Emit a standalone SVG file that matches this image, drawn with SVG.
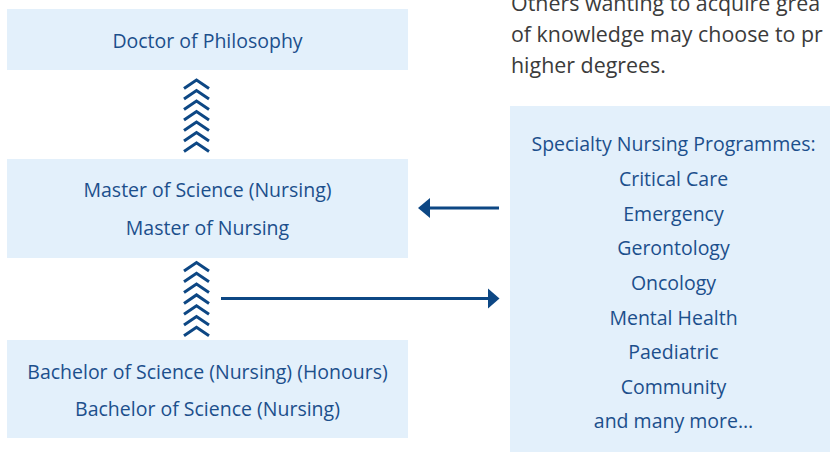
<svg xmlns="http://www.w3.org/2000/svg" width="830" height="452" viewBox="0 0 830 452">
<defs>
<style>
.box{fill:#e3f0fb;}
.t{font-family:"Open Sans","Liberation Sans",sans-serif;font-size:19.5px;fill:#1c4f8c;text-anchor:middle;}
.p{font-family:"Open Sans","Liberation Sans",sans-serif;font-size:21.4px;fill:#3b3b3b;}
.chev{fill:none;stroke:#0d4784;stroke-width:3;}
.arr{stroke:#0d4784;stroke-width:3;fill:none;}
.head{fill:#0d4784;}
</style>
<path id="c" class="chev" d="M184,88.5 L196.5,80 L209,88.5"/>
</defs>
<rect width="830" height="452" fill="#ffffff"/>
<g id="intro">
<text class="p" x="511" y="11">Others wanting to acquire grea</text>
<text class="p" x="511" y="42">of knowledge may choose to pr</text>
<text class="p" x="511" y="73">higher degrees.</text>
</g>
<g id="phd">
<rect class="box" x="7" y="9" width="401" height="61"/>
<text class="t" x="207.5" y="48">Doctor of Philosophy</text>
</g>
<g id="master">
<rect class="box" x="7" y="159" width="401" height="99"/>
<text class="t" x="207.5" y="197">Master of Science (Nursing)</text>
<text class="t" x="207.5" y="235">Master of Nursing</text>
</g>
<g id="bachelor">
<rect class="box" x="7" y="340" width="401" height="98"/>
<text class="t" x="207.5" y="379">Bachelor of Science (Nursing) (Honours)</text>
<text class="t" x="207.5" y="416">Bachelor of Science (Nursing)</text>
</g>
<g id="specialty">
<rect class="box" x="510" y="106" width="320" height="346"/>
<text class="t" x="673.5" y="151">Specialty Nursing Programmes:</text>
<text class="t" x="673.5" y="186">Critical Care</text>
<text class="t" x="673.5" y="221">Emergency</text>
<text class="t" x="673.5" y="255">Gerontology</text>
<text class="t" x="673.5" y="290">Oncology</text>
<text class="t" x="673.5" y="325">Mental Health</text>
<text class="t" x="673.5" y="359">Paediatric</text>
<text class="t" x="673.5" y="394">Community</text>
<text class="t" x="673.5" y="428">and many more…</text>
</g>
<g id="connectors">
<g id="chevrons-upper">
<use href="#c" y="0"/>
<use href="#c" y="10.5"/>
<use href="#c" y="21"/>
<use href="#c" y="31.5"/>
<use href="#c" y="42"/>
<use href="#c" y="52.5"/>
<use href="#c" y="63"/>
</g>
<g id="chevrons-lower">
<use href="#c" y="182.5"/>
<use href="#c" y="193.3"/>
<use href="#c" y="204.1"/>
<use href="#c" y="214.9"/>
<use href="#c" y="225.7"/>
<use href="#c" y="236.5"/>
<use href="#c" y="247.3"/>
</g>
<g id="arrow-left">
<line class="arr" x1="499" y1="208" x2="428" y2="208"/>
<polygon class="head" points="418,208 430,198 430,218"/>
</g>
<g id="arrow-right">
<line class="arr" x1="221" y1="298.5" x2="490" y2="298.5"/>
<polygon class="head" points="499.5,298.5 488,288.5 488,308.5"/>
</g>
</g>
</svg>
